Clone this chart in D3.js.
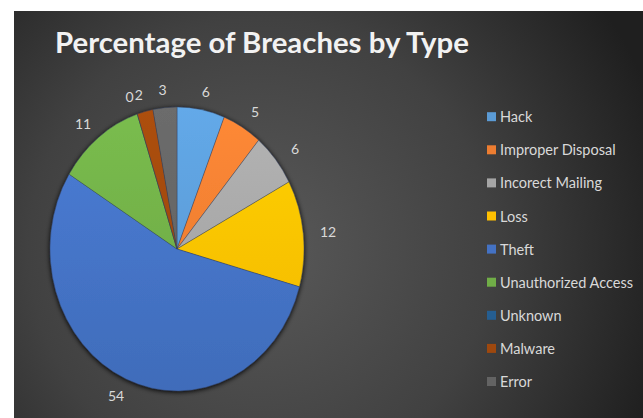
<!DOCTYPE html>
<html>
<head>
<meta charset="utf-8">
<script src="https://cdn.jsdelivr.net/npm/d3@7"></script>
<style>
  html, body { margin: 0; padding: 0; background: #ffffff; }
  svg { display: block; }
</style>
</head>
<body>
<svg id="chart" width="643" height="418"></svg>
<script>
// ---- data ----
const categories = ["Hack", "Improper Disposal", "Incorect Mailing", "Loss", "Theft",
                    "Unauthorized Access", "Unknown", "Malware", "Error"];
const values = [6, 5, 6, 12, 54, 11, 0, 2, 3];
const colors = ["#5B9BD5", "#ED7D31", "#A5A5A5", "#FFC000", "#4472C4",
                "#70AD47", "#255E91", "#9E480E", "#636363"];
const title = "Percentage of Breaches by Type";

const svg = d3.select("#chart");
const W = 643, H = 418;

// ---- background panel ----
const defs = svg.append("defs");
const bg = defs.append("radialGradient").attr("id", "bg")
  .attr("gradientUnits", "userSpaceOnUse")
  .attr("cx", 260).attr("cy", 250).attr("r", 420);
bg.append("stop").attr("offset", "0%").attr("stop-color", "#595959");
bg.append("stop").attr("offset", "55%").attr("stop-color", "#414141");
bg.append("stop").attr("offset", "100%").attr("stop-color", "#1f1f1f");

svg.append("rect").attr("x", 14).attr("y", 11).attr("width", W - 14).attr("height", H - 11)
  .attr("fill", "url(#bg)");

// ---- title ----
const t = svg.append("text").attr("x", 55).attr("y", 53)
  .attr("font-family", "Lato, 'Open Sans', sans-serif").attr("font-weight", 700)
  .attr("font-size", 27).attr("fill", "#f2f2f2").text(title);
{
  const w = t.node().getComputedTextLength();
  t.attr("font-size", 27 * 414 / w);
}

// ---- pie ----
const cx = 177, cy = 249, rx = 127, ry = 142;
const lrx = 152, lry = 160;

const pie = d3.pie().sort(null).value(d => d.v);
const arcs = pie(categories.map((c, i) => ({ c, v: values[i], col: colors[i] })));
const arc = d3.arc().innerRadius(0).outerRadius(rx);

// slice gradients (lighter at top)
arcs.forEach((a, i) => {
  const g = defs.append("linearGradient").attr("id", "sg" + i)
    .attr("gradientUnits", "userSpaceOnUse")
    .attr("x1", 0).attr("y1", -rx).attr("x2", 0).attr("y2", rx);
  const base = d3.color(a.data.col);
  g.append("stop").attr("offset", "0%").attr("stop-color", base.brighter(0.25));
  g.append("stop").attr("offset", "100%").attr("stop-color", base.darker(0.15));
});

const shadow = defs.append("filter").attr("id", "sh").attr("x", "-20%").attr("y", "-20%")
  .attr("width", "140%").attr("height", "140%");
shadow.append("feGaussianBlur").attr("in", "SourceAlpha").attr("stdDeviation", 2.5);
shadow.append("feOffset").attr("dx", 0).attr("dy", 1).attr("result", "b");
const fm = shadow.append("feMerge");
fm.append("feMergeNode").attr("in", "b");
fm.append("feMergeNode").attr("in", "SourceGraphic");

const pieG = svg.append("g")
  .attr("transform", `translate(${cx},${cy}) scale(1,${ry / rx})`)
  .attr("filter", "url(#sh)");

pieG.selectAll("path").data(arcs).enter().append("path")
  .attr("d", arc)
  .attr("fill", (d, i) => `url(#sg${i})`)
  .attr("stroke", "#2f3d5c").attr("stroke-width", 0.6).attr("stroke-opacity", 0.6);

// ---- data labels ----
svg.append("g").selectAll("text").data(arcs).enter().append("text")
  .attr("x", d => cx + lrx * Math.sin((d.startAngle + d.endAngle) / 2))
  .attr("y", d => cy - lry * Math.cos((d.startAngle + d.endAngle) / 2))
  .attr("text-anchor", "middle").attr("dominant-baseline", "central")
  .attr("font-family", "Lato, 'Open Sans', sans-serif").attr("font-size", 14)
  .attr("fill", "#d9d9d9")
  .text(d => d.data.v);

// ---- legend ----
const legY0 = 116.7, legStep = 33.1;
const leg = svg.append("g").selectAll("g").data(categories).enter().append("g")
  .attr("transform", (d, i) => `translate(487,${legY0 + i * legStep})`);
leg.append("rect").attr("x", 0).attr("y", -4.5).attr("width", 9).attr("height", 9)
  .attr("fill", (d, i) => colors[i]);
const legText = leg.append("text").attr("x", 13).attr("y", 0).attr("dominant-baseline", "central")
  .attr("font-family", "Lato, 'Open Sans', sans-serif").attr("font-size", 14)
  .attr("fill", "#d9d9d9").text(d => d);
{
  const node = legText.filter(d => d === "Unauthorized Access").node();
  const w = node.getComputedTextLength();
  legText.attr("font-size", 14 * 133 / w);
}
</script>
</body>
</html>
